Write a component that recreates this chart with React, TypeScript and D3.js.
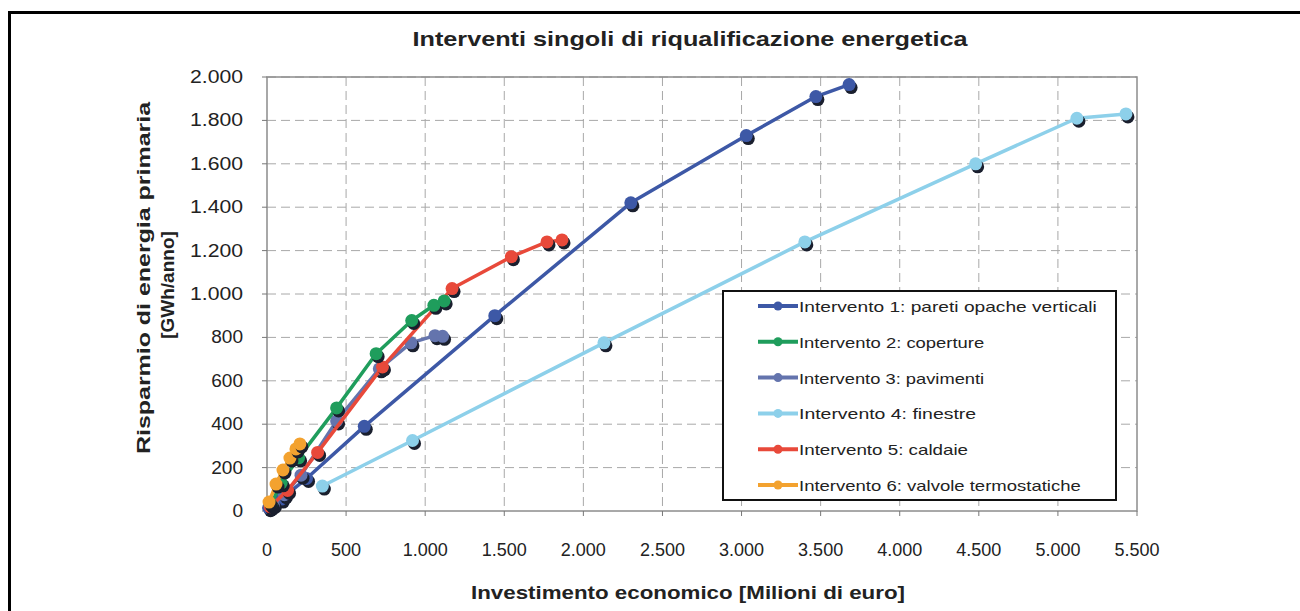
import * as d3 from "d3";

const xTicks = [0, 500, 1000, 1500, 2000, 2500, 3000, 3500, 4000, 4500, 5000, 5500];
const yTicks = [0, 200, 400, 600, 800, 1000, 1200, 1400, 1600, 1800, 2000];

// [investimento, risparmio]
const pareti: [number, number][] = [
  [10, 15], [90, 55], [250, 150], [615, 390], [1440, 900],
  [2300, 1420], [3030, 1730], [3470, 1910], [3680, 1965],
];
const coperture: [number, number][] = [
  [25, 30], [90, 130], [200, 245], [440, 475], [690, 725],
  [915, 878], [1055, 948], [1120, 968],
];
const pavimenti: [number, number][] = [
  [40, 30], [110, 75], [215, 165], [440, 415], [710, 655],
  [910, 775], [1062, 808], [1110, 805],
];
const finestre: [number, number][] = [
  [350, 115], [920, 325], [2130, 775], [3400, 1240],
  [4480, 1600], [5120, 1810], [5430, 1830],
];
const caldaie: [number, number][] = [
  [20, 20], [130, 95], [320, 270], [730, 664], [1170, 1025],
  [1545, 1172], [1770, 1240], [1865, 1249],
];
const valvole: [number, number][] = [
  [13, 41], [57, 124], [101, 189], [145, 244], [183, 286], [208, 309],
];

const seriesNames = [
  "Intervento 1: pareti opache verticali",
  "Intervento 2: coperture",
  "Intervento 3: pavimenti",
  "Intervento 4: finestre",
  "Intervento 5: caldaie",
  "Intervento 6: valvole termostatiche",
];
const seriesColors = ["#3d58a6", "#1f9d5c", "#6474ad", "#8dd0ea", "#e8493a", "#f3a22f"];
const seriesData = [pareti, coperture, pavimenti, finestre, caldaie, valvole];

const fmt = (v: number) => d3.format(",")(v).replace(/,/g, ".");

export default function App() {
  const width = 1300;
  const height = 611;
  const left = 267;
  const right = 1137;
  const top = 77;
  const bottom = 511;

  const x = d3.scaleLinear().domain([0, 5500]).range([left, right]);
  const y = d3.scaleLinear().domain([0, 2000]).range([bottom, top]);
  const line = d3
    .line<[number, number]>()
    .x((d) => x(d[0]))
    .y((d) => y(d[1]));

  const font = "'Liberation Sans', Arial, sans-serif";
  // draw order: finestre, pareti, pavimenti, caldaie, coperture, valvole
  const order = [3, 0, 2, 4, 1, 5];

  return (
    <svg
      width={width}
      height={height}
      style={{ position: "absolute", left: 0, top: 0, background: "#fff" }}
      fontFamily={font}
    >
      <rect x={0} y={0} width={width} height={height} fill="#fff" />
      {/* outer frame */}
      <path d={`M9.5,${height} V12.5 H${width}`} fill="none" stroke="#000" strokeWidth={3} />

      <text x={690} y={46} textAnchor="middle" fontSize={21} fontWeight="bold" fill="#222"
        textLength={555} lengthAdjust="spacingAndGlyphs">
        Interventi singoli di riqualificazione energetica
      </text>

      {/* grid */}
      <g stroke="#a8a8a8" strokeWidth={1} strokeDasharray="9,5">
        {yTicks.filter((t) => t > 0).map((t) => (
          <line key={"gy" + t} x1={left} x2={right} y1={y(t)} y2={y(t)} />
        ))}
        {xTicks.filter((t) => t > 0 && t < 5500).map((t) => (
          <line key={"gx" + t} x1={x(t)} x2={x(t)} y1={top} y2={bottom} />
        ))}
      </g>
      <rect x={left} y={top} width={right - left} height={bottom - top} fill="none" stroke="#8c8c8c" strokeWidth={1.5} />

      {/* ticks */}
      <g stroke="#777" strokeWidth={1}>
        {yTicks.map((t) => (
          <line key={"ty" + t} x1={left - 5} x2={left} y1={y(t)} y2={y(t)} />
        ))}
        {xTicks.map((t) => (
          <line key={"tx" + t} x1={x(t)} x2={x(t)} y1={bottom} y2={bottom + 5} />
        ))}
      </g>
      <g fontSize={18} fill="#222">
        {yTicks.map((t) => (
          <text key={"ly" + t} x={243} y={y(t) + 6}
            textAnchor="end" textLength={fmt(t).length * 10.6} lengthAdjust="spacingAndGlyphs">
            {fmt(t)}
          </text>
        ))}
        {xTicks.map((t) => (
          <text key={"lx" + t} x={x(t)} y={556} textAnchor="middle">
            {fmt(t)}
          </text>
        ))}
      </g>

      <text x={688} y={599} textAnchor="middle" fontSize={19} fontWeight="bold" fill="#222"
        textLength={434} lengthAdjust="spacingAndGlyphs">
        Investimento economico [Milioni di euro]
      </text>
      <g fontSize={19} fontWeight="bold" fill="#222" textAnchor="middle">
        <text transform="translate(150,278) rotate(-90)" textLength={352} lengthAdjust="spacingAndGlyphs">
          Risparmio di energia primaria
        </text>
        <text transform="translate(174,285) rotate(-90)">[GWh/anno]</text>
      </g>

      {/* series */}
      {order.map((i) => (
        <g key={"s" + i}>
          <path d={line(seriesData[i]) || ""} fill="none" stroke={seriesColors[i]} strokeWidth={3.5} strokeLinejoin="round" />
          {seriesData[i].map((d, j) => (
            <g key={j}>
              <circle cx={x(d[0]) + 2} cy={y(d[1]) + 3} r={6.5} fill="#1a1f2e" />
              <circle cx={x(d[0])} cy={y(d[1])} r={6.5} fill={seriesColors[i]} />
            </g>
          ))}
        </g>
      ))}

      {/* legend */}
      <rect x={723} y={291} width={393} height={209} fill="#fff" stroke="#111" strokeWidth={2} />
      {seriesNames.map((name, i) => {
        const ly = 306 + i * 35.8;
        return (
          <g key={"lg" + i}>
            <line x1={758} x2={798} y1={ly} y2={ly} stroke={seriesColors[i]} strokeWidth={4} />
            <circle cx={778} cy={ly} r={4.5} fill={seriesColors[i]} />
            <text x={799} y={ly + 6} fontSize={15} fill="#222" textLength={name.length * 8.05} lengthAdjust="spacingAndGlyphs">
              {name}
            </text>
          </g>
        );
      })}
    </svg>
  );
}
